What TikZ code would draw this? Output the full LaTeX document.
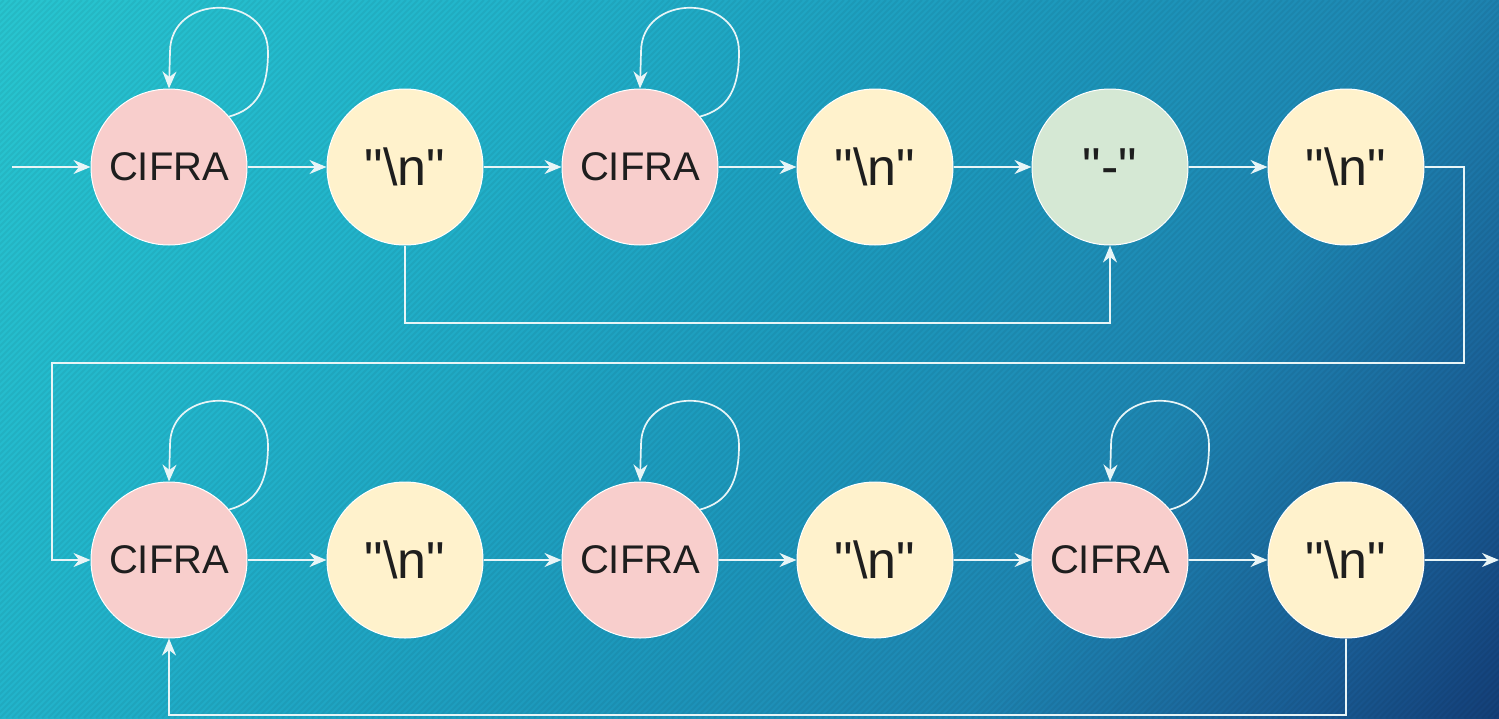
\documentclass[tikz,border=0pt]{standalone}
\usepackage{fontspec}
\setmainfont{Liberation Sans}[Ligatures=TeXOff]
\usetikzlibrary{arrows.meta,calc}
% background gradient stops
\definecolor{g0}{HTML}{28C5CF}
\definecolor{g1}{HTML}{22B4CB}
\definecolor{g2}{HTML}{1D9BBD}
\definecolor{g3}{HTML}{1E86B2}
\definecolor{g4}{HTML}{1A5C94}
\definecolor{g5}{HTML}{143F78}
\definecolor{cifraFill}{HTML}{F8CECC}
\definecolor{nlFill}{HTML}{FFF2CC}
\definecolor{minusFill}{HTML}{D5E8D4}
\definecolor{lineCol}{HTML}{E8F5F7}
\definecolor{txtCol}{HTML}{1E1E1E}
% self-loop above a state: leaves at the upper right, re-enters at the top
\newcommand\selfloop[1]{%
  \draw[edge] (#1.40) .. controls ($(#1)+(88,-58)$) and ($(#1)+(99,-78)$) ..
    ($(#1)+(99,-115)$) .. controls ($(#1)+(99,-174)$) and ($(#1)+(1,-174)$) ..
    ($(#1)+(1,-115)$) -- (#1.north);}
\begin{document}
\begin{tikzpicture}[x=1pt,y=-1pt,
  state/.style={circle, draw=white, line width=1pt, minimum size=156pt,
    inner sep=0pt, text=txtCol},
  cifra/.style={state, fill=cifraFill, font=\fontsize{40}{48}\selectfont},
  nl/.style={state, fill=nlFill, font=\fontsize{52}{60}\selectfont},
  minusstate/.style={state, fill=minusFill, font=\fontsize{52}{60}\selectfont},
  edge/.style={draw=lineCol, line width=1.7pt,
    -{Stealth[length=17pt,width=14pt,inset=5.5pt]}}]
\useasboundingbox (0,0) rectangle (1499,718);
% background: diagonal gradient built from thin bands, then fine stripes
\begin{scope}
  \clip (0,0) rectangle (1499,718);
  \foreach \ta/\tb/\ca/\cb in {0/0.25/g0/g1, 0.25/0.5/g1/g2, 0.5/0.73/g2/g3,
                               0.73/0.9/g3/g4, 0.9/1.0/g4/g5} {
    \foreach \i in {0,...,29} {
      \pgfmathsetmacro\ua{\ta+(\tb-\ta)*\i/30}
      \pgfmathsetmacro\ub{\ta+(\tb-\ta)*(\i+1)/30+0.002}
      \pgfmathtruncatemacro\pc{100*(\i+0.5)/30}
      \fill[\cb!\pc!\ca] (\ua*1998.67+7,-10) -- (\ub*1998.67+7,-10)
        -- (\ub*1998.67-506.6,728) -- (\ua*1998.67-506.6,728) -- cycle;
    }
  }
  \foreach \s in {-720,-714,...,1500}
    \draw[black, opacity=0.05, line width=2pt] (\s,718) -- (\s+718,0);
\end{scope}
% top row
\node[cifra] (t1) at (169,167) {CIFRA};
\node[nl] (t2) at (405,167) {"\textbackslash n"};
\node[cifra] (t3) at (640,167) {CIFRA};
\node[nl] (t4) at (875,167) {"\textbackslash n"};
\node[minusstate] (t5) at (1110,167) {"-"};
\node[nl] (t6) at (1346,167) {"\textbackslash n"};
% bottom row
\node[cifra] (b1) at (169,560) {CIFRA};
\node[nl] (b2) at (405,560) {"\textbackslash n"};
\node[cifra] (b3) at (640,560) {CIFRA};
\node[nl] (b4) at (875,560) {"\textbackslash n"};
\node[cifra] (b5) at (1110,560) {CIFRA};
\node[nl] (b6) at (1346,560) {"\textbackslash n"};
% free ends and bends
\coordinate (in) at (12,167);
\coordinate (out) at (1499,560);
\coordinate (skip) at (405,323);
\coordinate (wrapR) at (1464,363);
\coordinate (wrapL) at (52,560);
\coordinate (back) at (169,715);
% straight transitions
\draw[edge] (in) -- (t1);
\draw[edge] (t1) -- (t2);
\draw[edge] (t2) -- (t3);
\draw[edge] (t3) -- (t4);
\draw[edge] (t4) -- (t5);
\draw[edge] (t5) -- (t6);
\draw[edge] (b1) -- (b2);
\draw[edge] (b2) -- (b3);
\draw[edge] (b3) -- (b4);
\draw[edge] (b4) -- (b5);
\draw[edge] (b5) -- (b6);
\draw[edge] (b6) -- (out);
% routed transitions
\draw[edge] (t2.south) -- (skip) -| (t5.south);
\draw[edge] (t6.east) -| (wrapR) -| (wrapL) -- (b1.west);
\draw[edge] (b6.south) |- (back) -- (b1.south);
% self-loops
\selfloop{t1}
\selfloop{t3}
\selfloop{b1}
\selfloop{b3}
\selfloop{b5}
\end{tikzpicture}
\end{document}
